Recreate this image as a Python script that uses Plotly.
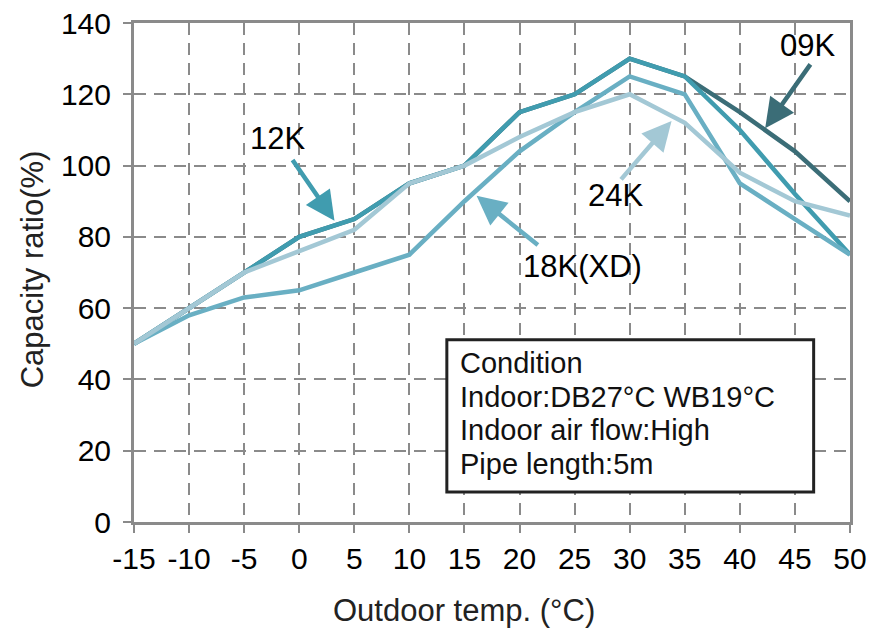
import plotly.graph_objects as go

temps = [-15, -10, -5, 0, 5, 10, 15, 20, 25, 30, 35, 40, 45, 50]
cap_09k = [50, 60, 70, 80, 85, 95, 100, 115, 120, 130, 125, 115, 104, 90]
cap_12k = [50, 60, 70, 80, 85, 95, 100, 115, 120, 130, 125, 110, 92, 75]
cap_18k = [50, 58, 63, 65, 70, 75, 90, 104, 115, 125, 120, 95, 85, 75]
cap_24k = [50, 60, 70, 76, 82, 95, 100, 108, 115, 120, 112, 98, 90, 86]

series_names = ["09K", "12K", "18K(XD)", "24K"]
series_values = [cap_09k, cap_12k, cap_18k, cap_24k]
series_colors = ["#3b6d77", "#409caf", "#69afc3", "#a3c8d5"]

x_ticks = list(range(-15, 55, 5))
y_ticks = list(range(0, 160, 20))

condition_lines = ["Condition", "Indoor:DB27°C WB19°C", "Indoor air flow:High", "Pipe length:5m"]

FONT = "Liberation Sans"
GRID = "#8a8a8a"

fig = go.Figure()
for name, vals, col in zip(series_names, series_values, series_colors):
    fig.add_trace(go.Scatter(x=temps, y=vals, mode="lines", name=name,
                             line=dict(color=col, width=4.5), showlegend=False))

# arrows (head x,y ; tail ax,ay) and labels
arrows = [
    ("12K", series_colors[1], (3.2, 84.5), (-0.7, 102.0), (-2.0, 107.5)),
    ("24K", series_colors[3], (33.8, 112.5), (29.1, 95.7), (28.7, 91.5)),
    ("09K", series_colors[0], (42.3, 110.5), (46.5, 128.8), (46.1, 133.6)),
    ("18K(XD)", series_colors[2], (16.1, 91.5), (21.8, 77.4), (25.7, 71.8)),
]
for label, col, head, tail, lab in arrows:
    fig.add_annotation(x=head[0], y=head[1], ax=tail[0], ay=tail[1],
                       xref="x", yref="y", axref="x", ayref="y",
                       text="", showarrow=True, arrowhead=2, arrowsize=1.3,
                       arrowwidth=4.5, arrowcolor=col, standoff=0)
    fig.add_annotation(x=lab[0], y=lab[1], xref="x", yref="y", text=label,
                       showarrow=False, font=dict(family=FONT, size=31, color="black"))

fig.add_shape(type="rect", x0=13.4, x1=46.7, y0=8.4, y1=51.1, xref="x", yref="y",
              line=dict(color="#222222", width=3), fillcolor="white", layer="above")
line_y = [44.6, 35.2, 25.8, 16.3]
for txt, yy in zip(condition_lines, line_y):
    fig.add_annotation(x=14.4, y=yy, xref="x", yref="y", text=txt, showarrow=False,
                       xanchor="left", yanchor="middle",
                       font=dict(family=FONT, size=29, color="#111111"))

# axis titles
fig.add_annotation(x=15.0, y=-0.178, xref="x", yref="paper", text="Outdoor temp. (°C)",
                   showarrow=False, xanchor="center", yanchor="middle",
                   font=dict(family=FONT, size=31, color="#222"))
fig.add_annotation(x=-0.142, y=0.507, xref="paper", yref="paper", text="Capacity ratio(%)",
                   showarrow=False, textangle=-90, xanchor="center", yanchor="middle",
                   font=dict(family=FONT, size=31, color="#222"))

fig.update_layout(
    width=883, height=636,
    margin=dict(l=126, r=41, t=15, b=122),
    paper_bgcolor="white", plot_bgcolor="white",
    font=dict(family=FONT, color="black"),
)
fig.update_xaxes(
    range=[-15, 50], tickvals=x_ticks, ticktext=[str(v) for v in x_ticks],
    automargin=False, ticklabeloverflow="allow",
    showgrid=True, gridcolor=GRID, griddash="12px,8px", gridwidth=1.5,
    zeroline=False, showline=True, linecolor=GRID, linewidth=3, mirror=True,
    ticks="outside", ticklen=8, tickwidth=2, tickcolor=GRID,
    tickfont=dict(family=FONT, size=30, color="black"), ticklabelstandoff=0,
)
fig.update_yaxes(
    range=[0, 140], tickvals=y_ticks, automargin=False, ticklabeloverflow="allow",
    showgrid=True, gridcolor=GRID, griddash="12px,8px", gridwidth=1.5,
    zeroline=False, showline=True, linecolor=GRID, linewidth=3, mirror=True,
    ticks="outside", ticklen=8, tickwidth=2, tickcolor=GRID,
    tickfont=dict(family=FONT, size=30, color="black"), ticklabelstandoff=6,
)

fig.write_html("out.html")
